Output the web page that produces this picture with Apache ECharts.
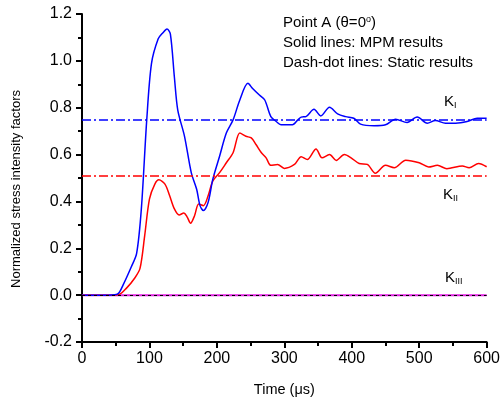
<!DOCTYPE html>
<html><head><meta charset="utf-8">
<script src="https://cdn.jsdelivr.net/npm/echarts@6/dist/echarts.min.js"></script>
<style>html,body{margin:0;padding:0;background:#fff}#c{width:503px;height:402px}</style>
</head><body><div id="c"></div>
<script>
// K_I (MPM) time / value
const kiTime = [0,20,40,53,61,73,81,88,96,103,113,120,126,131,137,142,152,162,170,175,180,187,194,204,214,224,234,246,253,263,271,280,288,295,312,320,325,332,344,354,367,379,391,403,413,433,450,465,482,497,512,524,539,554,571,586,600];
const kiValues = [0,0,0,0.005,0.044,0.12,0.178,0.368,0.748,0.988,1.094,1.12,1.136,1.115,0.93,0.79,0.678,0.523,0.452,0.382,0.361,0.396,0.495,0.593,0.692,0.748,0.833,0.904,0.882,0.854,0.833,0.762,0.741,0.727,0.727,0.748,0.760,0.762,0.793,0.765,0.802,0.774,0.762,0.755,0.730,0.723,0.727,0.751,0.737,0.760,0.734,0.745,0.734,0.734,0.741,0.755,0.755];
// K_II (MPM) time / value
const kiiTime = [0,20,40,55,66,78,86,93,100,108,114,123,130,137,144,151,156,161,167,173,180,187,194,204,214,224,234,243,251,258,266,273,280,290,300,315,325,334,347,356,367,377,389,399,411,423,435,450,463,480,500,514,527,541,564,574,588,600];
const kiiValues = [0,0,0,0.003,0.03,0.072,0.114,0.255,0.41,0.474,0.492,0.474,0.424,0.368,0.342,0.351,0.333,0.307,0.34,0.389,0.382,0.424,0.488,0.523,0.565,0.608,0.692,0.678,0.671,0.643,0.608,0.586,0.554,0.558,0.541,0.558,0.591,0.579,0.624,0.586,0.600,0.575,0.600,0.586,0.562,0.558,0.520,0.554,0.544,0.576,0.565,0.547,0.554,0.540,0.551,0.544,0.562,0.548];
// K_III (MPM)
const kiiiTime = [0,600];
const kiiiValues = [0,0];
// Static results
const staticKI = 0.75;
const staticKII = 0.508;
const staticKIII = 0;
const yTicks = [-0.2,0,0.2,0.4,0.6,0.8,1.0,1.2];
const xTicks = [0,100,200,300,400,500,600];

const zip = (t, v) => t.map((x, i) => [x, v[i]]);
const font = 'Liberation Sans, Arial, sans-serif';
const chart = echarts.init(document.getElementById('c'), null, {renderer:'canvas'});
const dashDot = [9,3,2,3];
const sub = {n:{fontFamily:font,fontSize:15,fill:'#000'},s:{fontFamily:font,fontSize:9,fill:'#000',padding:[9,0,0,0]}};
chart.setOption({
  animation:false,
  backgroundColor:'#fff',
  grid:{left:82,right:15,top:14,bottom:58},
  xAxis:{type:'value',min:xTicks[0],max:xTicks[xTicks.length-1],interval:100,
    name:'Time (\u03bcs)',nameLocation:'middle',nameGap:40,
    nameTextStyle:{fontFamily:font,fontSize:14.5,color:'#000'},
    axisLine:{onZero:false,lineStyle:{color:'#000',width:2}},
    axisTick:{inside:false,length:6,lineStyle:{color:'#000',width:2}},
    minorTick:{show:true,splitNumber:2,length:4,lineStyle:{color:'#000',width:2}},
    axisLabel:{fontFamily:font,fontSize:16,color:'#000',margin:9},
    splitLine:{show:false}},
  yAxis:{type:'value',min:yTicks[0],max:yTicks[yTicks.length-1],interval:0.2,
    name:'Normalized stress intensity factors',nameLocation:'middle',nameGap:59,
    nameTextStyle:{fontFamily:font,fontSize:13,color:'#000',padding:[0,22,0,0]},
    axisLine:{onZero:false,lineStyle:{color:'#000',width:2}},
    axisTick:{inside:false,length:6,lineStyle:{color:'#000',width:2}},
    minorTick:{show:true,splitNumber:2,length:4,lineStyle:{color:'#000',width:2}},
    axisLabel:{fontFamily:font,fontSize:16,color:'#000',margin:10,formatter:v=>v.toFixed(1)},
    splitLine:{show:false}},
  series:[
    {type:'line',data:zip(kiiiTime,kiiiValues),symbol:'none',lineStyle:{color:'#e020e0',width:2},z:2},
    {type:'line',data:zip(kiiTime,kiiValues),symbol:'none',smooth:0.3,lineStyle:{color:'#ff0000',width:1.5},z:3,
      markLine:{silent:true,symbol:'none',label:{show:false},lineStyle:{color:'#ff0000',width:1.5,type:dashDot},data:[{yAxis:staticKII}]}},
    {type:'line',data:zip(kiTime,kiValues),symbol:'none',smooth:0.3,lineStyle:{color:'#0000ff',width:1.5},z:4,
      markLine:{silent:true,symbol:'none',label:{show:false},lineStyle:{color:'#0000ff',width:1.5,type:dashDot},data:[{yAxis:staticKI}]}},
    {type:'line',data:[],symbol:'none',z:5,
      markLine:{silent:true,symbol:'none',label:{show:false},lineStyle:{color:'#000',width:1,type:[3,3]},data:[{yAxis:staticKIII}]}}
  ],
  graphic:[
    {type:'text',left:283,top:15,style:{rich:{n:{fontFamily:font,fontSize:15,fill:'#000'},s:{fontFamily:font,fontSize:9,fill:'#000',padding:[0,0,7,0]}},text:'{n|Point A (\u03b8=0}{s|o}{n|)}'}},
    {type:'text',left:283,top:35,style:{fontFamily:font,fontSize:15,fill:'#000',text:'Solid lines: MPM results'}},
    {type:'text',left:283,top:55,style:{fontFamily:font,fontSize:15,fill:'#000',text:'Dash-dot lines: Static results'}},
    {type:'text',left:444,top:94,style:{rich:sub,text:'{n|K}{s|I}'}},
    {type:'text',left:443,top:187,style:{rich:sub,text:'{n|K}{s|II}'}},
    {type:'text',left:445,top:270,style:{rich:sub,text:'{n|K}{s|III}'}}
  ]
});
</script></body></html>
